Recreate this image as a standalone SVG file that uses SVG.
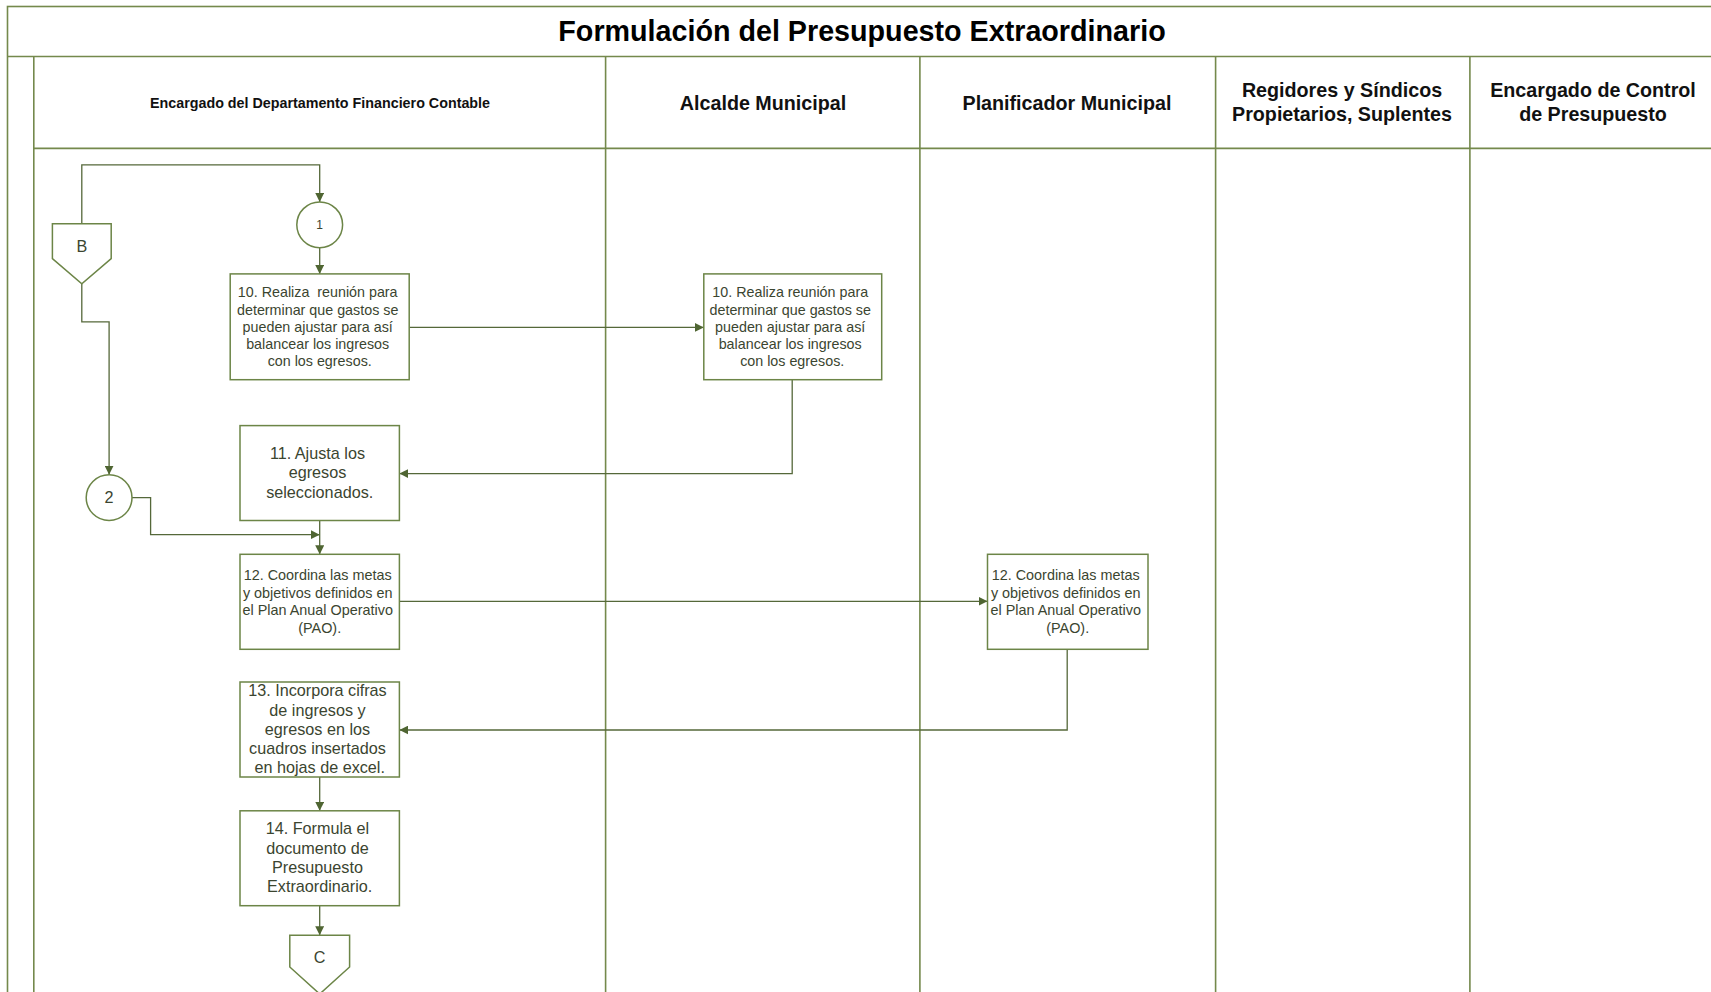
<svg xmlns="http://www.w3.org/2000/svg" width="1711" height="992" viewBox="0 0 1711 992">
  <style>
    .lane { fill: none; stroke: #74894c; stroke-width: 1.6; }
    .box { fill: #ffffff; stroke: #6c8547; stroke-width: 1.5; }
    .wire { fill: none; stroke: #55683a; stroke-width: 1.3; }
    .title { font-family: "Liberation Sans", Arial, sans-serif; font-weight: bold; font-size: 28.7px; fill: #000; text-anchor: middle; }
    .hdr { font-family: "Liberation Sans", Arial, sans-serif; font-weight: bold; font-size: 19.7px; fill: #111; text-anchor: middle; }
    .hdr-s { font-family: "Liberation Sans", Arial, sans-serif; font-weight: bold; font-size: 14.3px; fill: #111; text-anchor: middle; }
    .t { font-family: "Liberation Sans", Arial, sans-serif; fill: #3b4530; text-anchor: middle; }
    .t13 { font-size: 14.3px; }
    .t14 { font-size: 14.4px; }
    .t16 { font-size: 16.2px; }
  </style>
  <defs>
    <marker id="arrow" viewBox="0 0 10 10" refX="10" refY="5" markerWidth="9" markerHeight="9" markerUnits="userSpaceOnUse" orient="auto">
      <path d="M0,0 L10,5 L0,10 Z" fill="#4f6532"/>
    </marker>
  </defs>

  <rect width="1711" height="992" fill="#ffffff"/>

  <!-- pool frame and lanes -->
  <g id="pool">
    <rect class="lane" x="7.5" y="6.5" width="1720" height="1000"/>
    <line class="lane" x1="7.5" y1="56.5" x2="1711" y2="56.5"/>
    <line class="lane" x1="33.8" y1="56.5" x2="33.8" y2="992"/>
    <line class="lane" x1="33.8" y1="148.4" x2="1711" y2="148.4"/>
    <line class="lane" x1="605.6" y1="56.5" x2="605.6" y2="992"/>
    <line class="lane" x1="919.9" y1="56.5" x2="919.9" y2="992"/>
    <line class="lane" x1="1215.6" y1="56.5" x2="1215.6" y2="992"/>
    <line class="lane" x1="1469.9" y1="56.5" x2="1469.9" y2="992"/>
    <text class="title" x="862" y="41">Formulación del Presupuesto Extraordinario</text>
    <text class="hdr-s" x="320" y="107.8">Encargado del Departamento Financiero Contable</text>
    <text class="hdr" x="763" y="109.5">Alcalde Municipal</text>
    <text class="hdr" x="1067" y="109.5">Planificador Municipal</text>
    <text class="hdr" x="1342" y="96.5">Regidores y Síndicos</text>
    <text class="hdr" x="1342" y="120.5">Propietarios, Suplentes</text>
    <text class="hdr" x="1593" y="96.5">Encargado de Control</text>
    <text class="hdr" x="1593" y="120.5">de Presupuesto</text>
  </g>

  <!-- connectors -->
  <g id="connectors">
    <polyline class="wire" points="81.8,223.7 81.8,164.8 319.7,164.8 319.7,201.9" marker-end="url(#arrow)"/>
    <line class="wire" x1="319.7" y1="247.7" x2="319.7" y2="273.9" marker-end="url(#arrow)"/>
    <line class="wire" x1="409.2" y1="327.4" x2="703.8" y2="327.4" marker-end="url(#arrow)"/>
    <polyline class="wire" points="792.2,379.7 792.2,473.6 399.4,473.6" marker-end="url(#arrow)"/>
    <polyline class="wire" points="81.8,283.7 81.8,321.9 109.1,321.9 109.1,474.7" marker-end="url(#arrow)"/>
    <polyline class="wire" points="132,497.6 150.6,497.6 150.6,534.7 319.7,534.7" marker-end="url(#arrow)"/>
    <line class="wire" x1="319.7" y1="520.5" x2="319.7" y2="554.3" marker-end="url(#arrow)"/>
    <line class="wire" x1="399.4" y1="601.3" x2="987.5" y2="601.3" marker-end="url(#arrow)"/>
    <polyline class="wire" points="1067.2,649.3 1067.2,730 399.4,730" marker-end="url(#arrow)"/>
    <line class="wire" x1="319.7" y1="777" x2="319.7" y2="810.8" marker-end="url(#arrow)"/>
    <line class="wire" x1="319.7" y1="905.7" x2="319.7" y2="935.2" marker-end="url(#arrow)"/>
  </g>

  <!-- off-page connector B -->
  <g id="offpage-b">
    <polygon class="box" points="52.4,223.7 111.2,223.7 111.2,258.6 81.8,283.7 52.4,258.6"/>
    <text class="t t16" x="81.8" y="252">B</text>
  </g>

  <!-- on-page connector 1 -->
  <g id="conn-1">
    <circle class="box" cx="319.7" cy="224.8" r="22.9"/>
    <text class="t" x="319.7" y="229" font-size="12px">1</text>
  </g>

  <!-- on-page connector 2 -->
  <g id="conn-2">
    <circle class="box" cx="109.1" cy="497.6" r="22.9"/>
    <text class="t t16" x="109.1" y="503">2</text>
  </g>

  <g id="step-10a">
    <rect class="box" x="230.2" y="273.9" width="179" height="105.8"/>
    <text class="t t13">
      <tspan x="319.7" y="297.4">10. Realiza &#160;reunión para</tspan>
      <tspan x="319.7" y="314.6">determinar que gastos se</tspan>
      <tspan x="319.7" y="331.8">pueden ajustar para así</tspan>
      <tspan x="319.7" y="349">balancear los ingresos</tspan>
      <tspan x="319.7" y="366.2">con los egresos.</tspan>
    </text>
  </g>

  <g id="step-10b">
    <rect class="box" x="703.8" y="273.9" width="177.9" height="105.8"/>
    <text class="t t13">
      <tspan x="792.2" y="297.4">10. Realiza reunión para</tspan>
      <tspan x="792.2" y="314.6">determinar que gastos se</tspan>
      <tspan x="792.2" y="331.8">pueden ajustar para así</tspan>
      <tspan x="792.2" y="349">balancear los ingresos</tspan>
      <tspan x="792.2" y="366.2">con los egresos.</tspan>
    </text>
  </g>

  <g id="step-11">
    <rect class="box" x="240" y="425.6" width="159.4" height="94.9"/>
    <text class="t t16">
      <tspan x="319.7" y="458.6">11. Ajusta los</tspan>
      <tspan x="319.7" y="478.1">egresos</tspan>
      <tspan x="319.7" y="497.6">seleccionados.</tspan>
    </text>
  </g>

  <g id="step-12a">
    <rect class="box" x="240" y="554.3" width="159.4" height="95"/>
    <text class="t t14">
      <tspan x="319.7" y="580">12. Coordina las metas</tspan>
      <tspan x="319.7" y="597.5">y objetivos definidos en</tspan>
      <tspan x="319.7" y="615">el Plan Anual Operativo</tspan>
      <tspan x="319.7" y="632.5">(PAO).</tspan>
    </text>
  </g>

  <g id="step-12b">
    <rect class="box" x="987.5" y="554.3" width="160.5" height="95"/>
    <text class="t t14">
      <tspan x="1067.7" y="580">12. Coordina las metas</tspan>
      <tspan x="1067.7" y="597.5">y objetivos definidos en</tspan>
      <tspan x="1067.7" y="615">el Plan Anual Operativo</tspan>
      <tspan x="1067.7" y="632.5">(PAO).</tspan>
    </text>
  </g>

  <g id="step-13">
    <rect class="box" x="240" y="682" width="159.4" height="95"/>
    <text class="t t16">
      <tspan x="319.7" y="696.4">13. Incorpora cifras</tspan>
      <tspan x="319.7" y="715.7">de ingresos y</tspan>
      <tspan x="319.7" y="734.6">egresos en los</tspan>
      <tspan x="319.7" y="753.9">cuadros insertados</tspan>
      <tspan x="319.7" y="772.8">en hojas de excel.</tspan>
    </text>
  </g>

  <g id="step-14">
    <rect class="box" x="240" y="810.8" width="159.4" height="94.9"/>
    <text class="t t16">
      <tspan x="319.7" y="833.9">14. Formula el</tspan>
      <tspan x="319.7" y="853.5">documento de</tspan>
      <tspan x="319.7" y="873.1">Presupuesto</tspan>
      <tspan x="319.7" y="891.7">Extraordinario.</tspan>
    </text>
  </g>

  <!-- off-page connector C -->
  <g id="offpage-c">
    <polygon class="box" points="289.8,935.2 349.6,935.2 349.6,967 319.7,994 289.8,967"/>
    <text class="t t16" x="319.7" y="962.5">C</text>
  </g>
</svg>
